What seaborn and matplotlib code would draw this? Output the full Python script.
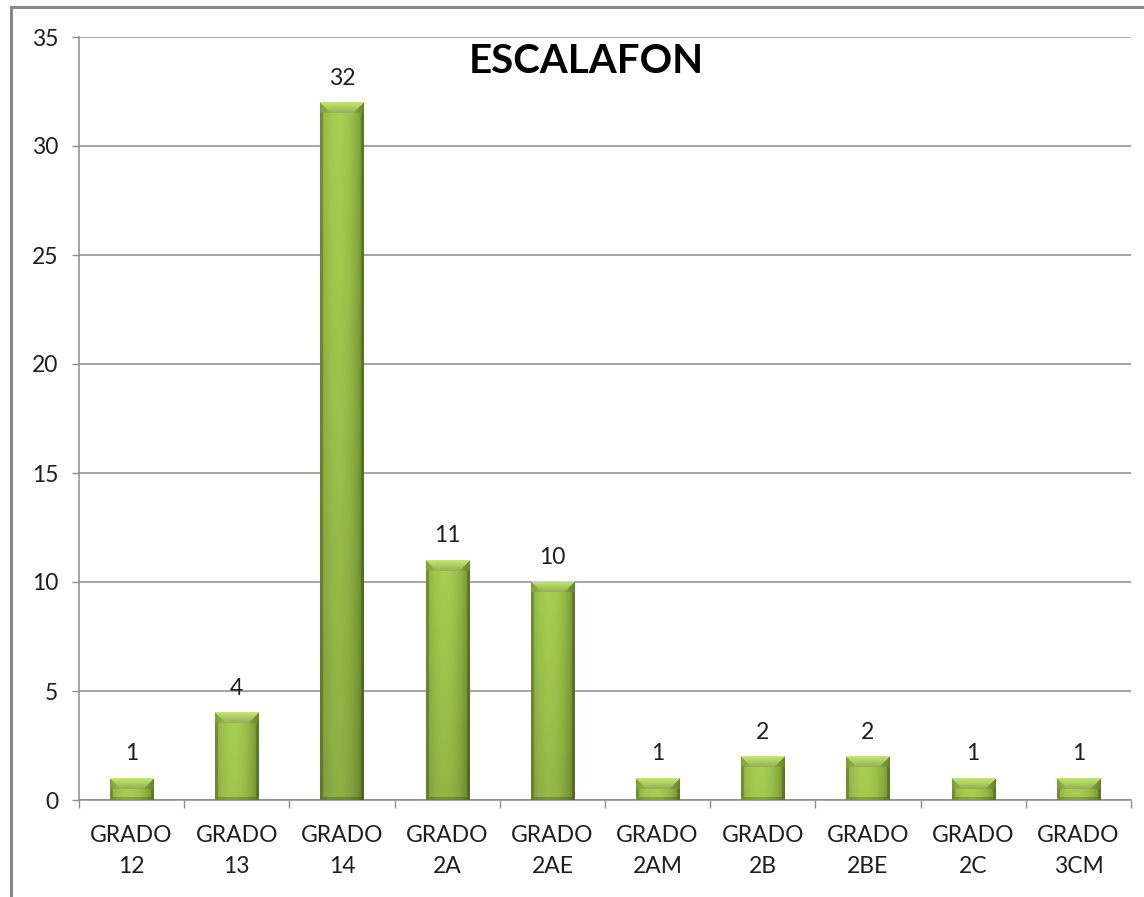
import numpy as np
import pandas as pd
import matplotlib
matplotlib.use("Agg")
import matplotlib.pyplot as plt
import seaborn as sns
from matplotlib.patches import Rectangle

categories = ["GRADO\n12", "GRADO\n13", "GRADO\n14", "GRADO\n2A", "GRADO\n2AE",
              "GRADO\n2AM", "GRADO\n2B", "GRADO\n2BE", "GRADO\n2C", "GRADO\n3CM"]
values = [1, 4, 32, 11, 10, 1, 2, 2, 1, 1]
yticks = [0, 5, 10, 15, 20, 25, 30, 35]
title = "ESCALAFON"

sns.set_theme(style="white")
plt.rcParams['font.family'] = ['Lato', 'DejaVu Sans']

W, H = 1144, 897
fig = plt.figure(figsize=(W / 100, H / 100), dpi=100)
ax = fig.add_axes([79 / W, 1 - 800 / H, (1131 - 79) / W, (800 - 37) / H])

df = pd.DataFrame({"cat": categories, "val": values})
sns.barplot(data=df, x="cat", y="val", ax=ax, width=0.41, color="#9bc44a",
            edgecolor="none", saturation=1)

ax.set_ylim(0, 35)
ax.set_xlim(-0.5, len(categories) - 0.5)
ax.set_yticks(yticks)
ax.set_xlabel("")
ax.set_ylabel("")

grid_c = "#8c8c8c"
txt_c = "#1e1e1e"
fs = 16.5
ax.yaxis.grid(True, color=grid_c, linewidth=1.1)
ax.set_axisbelow(True)
for s in ["top", "right"]:
    ax.spines[s].set_visible(False)
for s in ["left", "bottom"]:
    ax.spines[s].set_color(grid_c)
    ax.spines[s].set_linewidth(1.1)

ax.tick_params(axis="y", length=5, width=1, color=grid_c, pad=10,
               labelsize=fs, labelcolor=txt_c, left=True)
ax.tick_params(axis="x", which="major", length=0, pad=18, labelsize=fs,
               labelcolor=txt_c)
ax.set_xticks(np.arange(-0.5, len(categories) + 0.5, 1.0), minor=True)
ax.tick_params(axis="x", which="minor", length=6, width=1, color=grid_c, bottom=True)
for lab in ax.get_xticklabels():
    lab.set_linespacing(1.6)

# gradient fill for each bar
fig.canvas.draw()
dark = np.array([0x68, 0x88, 0x28]) / 255
light = np.array([0xa8, 0xd0, 0x52]) / 255
bevel_c = np.array([0xc2, 0xe6, 0x70]) / 255
px_per_unit = ax.bbox.height / 35.0
px_per_x = ax.bbox.width / (ax.get_xlim()[1] - ax.get_xlim()[0])
for p in ax.patches:
    x0, y0 = p.get_x(), p.get_y()
    w, h = p.get_width(), p.get_height()
    if h <= 0:
        continue
    hp = max(int(round(h * px_per_unit)), 2)
    wp = max(int(round(w * px_per_x)), 2)
    yy, xx = np.mgrid[0:hp, 0:wp]
    u = (xx + 0.5) / wp
    f = np.clip(1 - ((u - 0.42) / 0.62) ** 2, 0, 1)
    vfrac = (yy + 0.5) / hp
    vdark = 1 - 0.16 * vfrac * min(1.0, hp / 300.0)
    img = dark[None, None, :] + (light - dark)[None, None, :] * f[..., None]
    img = img * vdark[..., None]
    bev = 11
    top_mask = (yy < bev) & (xx >= yy) & (xx < wp - yy)
    corner_mask = (yy < bev) & ~top_mask
    t = (yy / bev)[..., None]
    top_col = bevel_c[None, None, :] * (1 - 0.25 * t)
    img = np.where(top_mask[..., None], top_col, img)
    img = np.where(corner_mask[..., None], img * 0.9, img)
    side = ((xx < 3) | (xx >= wp - 3) | (yy >= hp - 3)) & ~(yy < bev)
    img = np.where(side[..., None], img * 0.8, img)
    img = np.clip(img, 0, 1)
    ax.imshow(img, extent=[x0, x0 + w, y0, y0 + h], origin="upper",
              aspect="auto", zorder=3, interpolation="bilinear")
    p.set_visible(False)
ax.set_xlim(-0.5, len(categories) - 0.5)
ax.set_ylim(0, 35)

for i, v in enumerate(values):
    ax.annotate(str(v), xy=(i, v), xytext=(0, 10), textcoords="offset points",
                ha="center", va="bottom", fontsize=fs, color=txt_c)

ax.text(0.482, 0.968, title, transform=ax.transAxes, ha="center", va="center",
        fontsize=29, fontweight="bold", color="black")

# outer frame
fig.patches.append(Rectangle((11 / W, -0.1), 1.2, 1 - 7 / H + 0.1,
                             transform=fig.transFigure, fill=False,
                             edgecolor="#888888", linewidth=2.2))

fig.savefig("out.png", dpi=100)
